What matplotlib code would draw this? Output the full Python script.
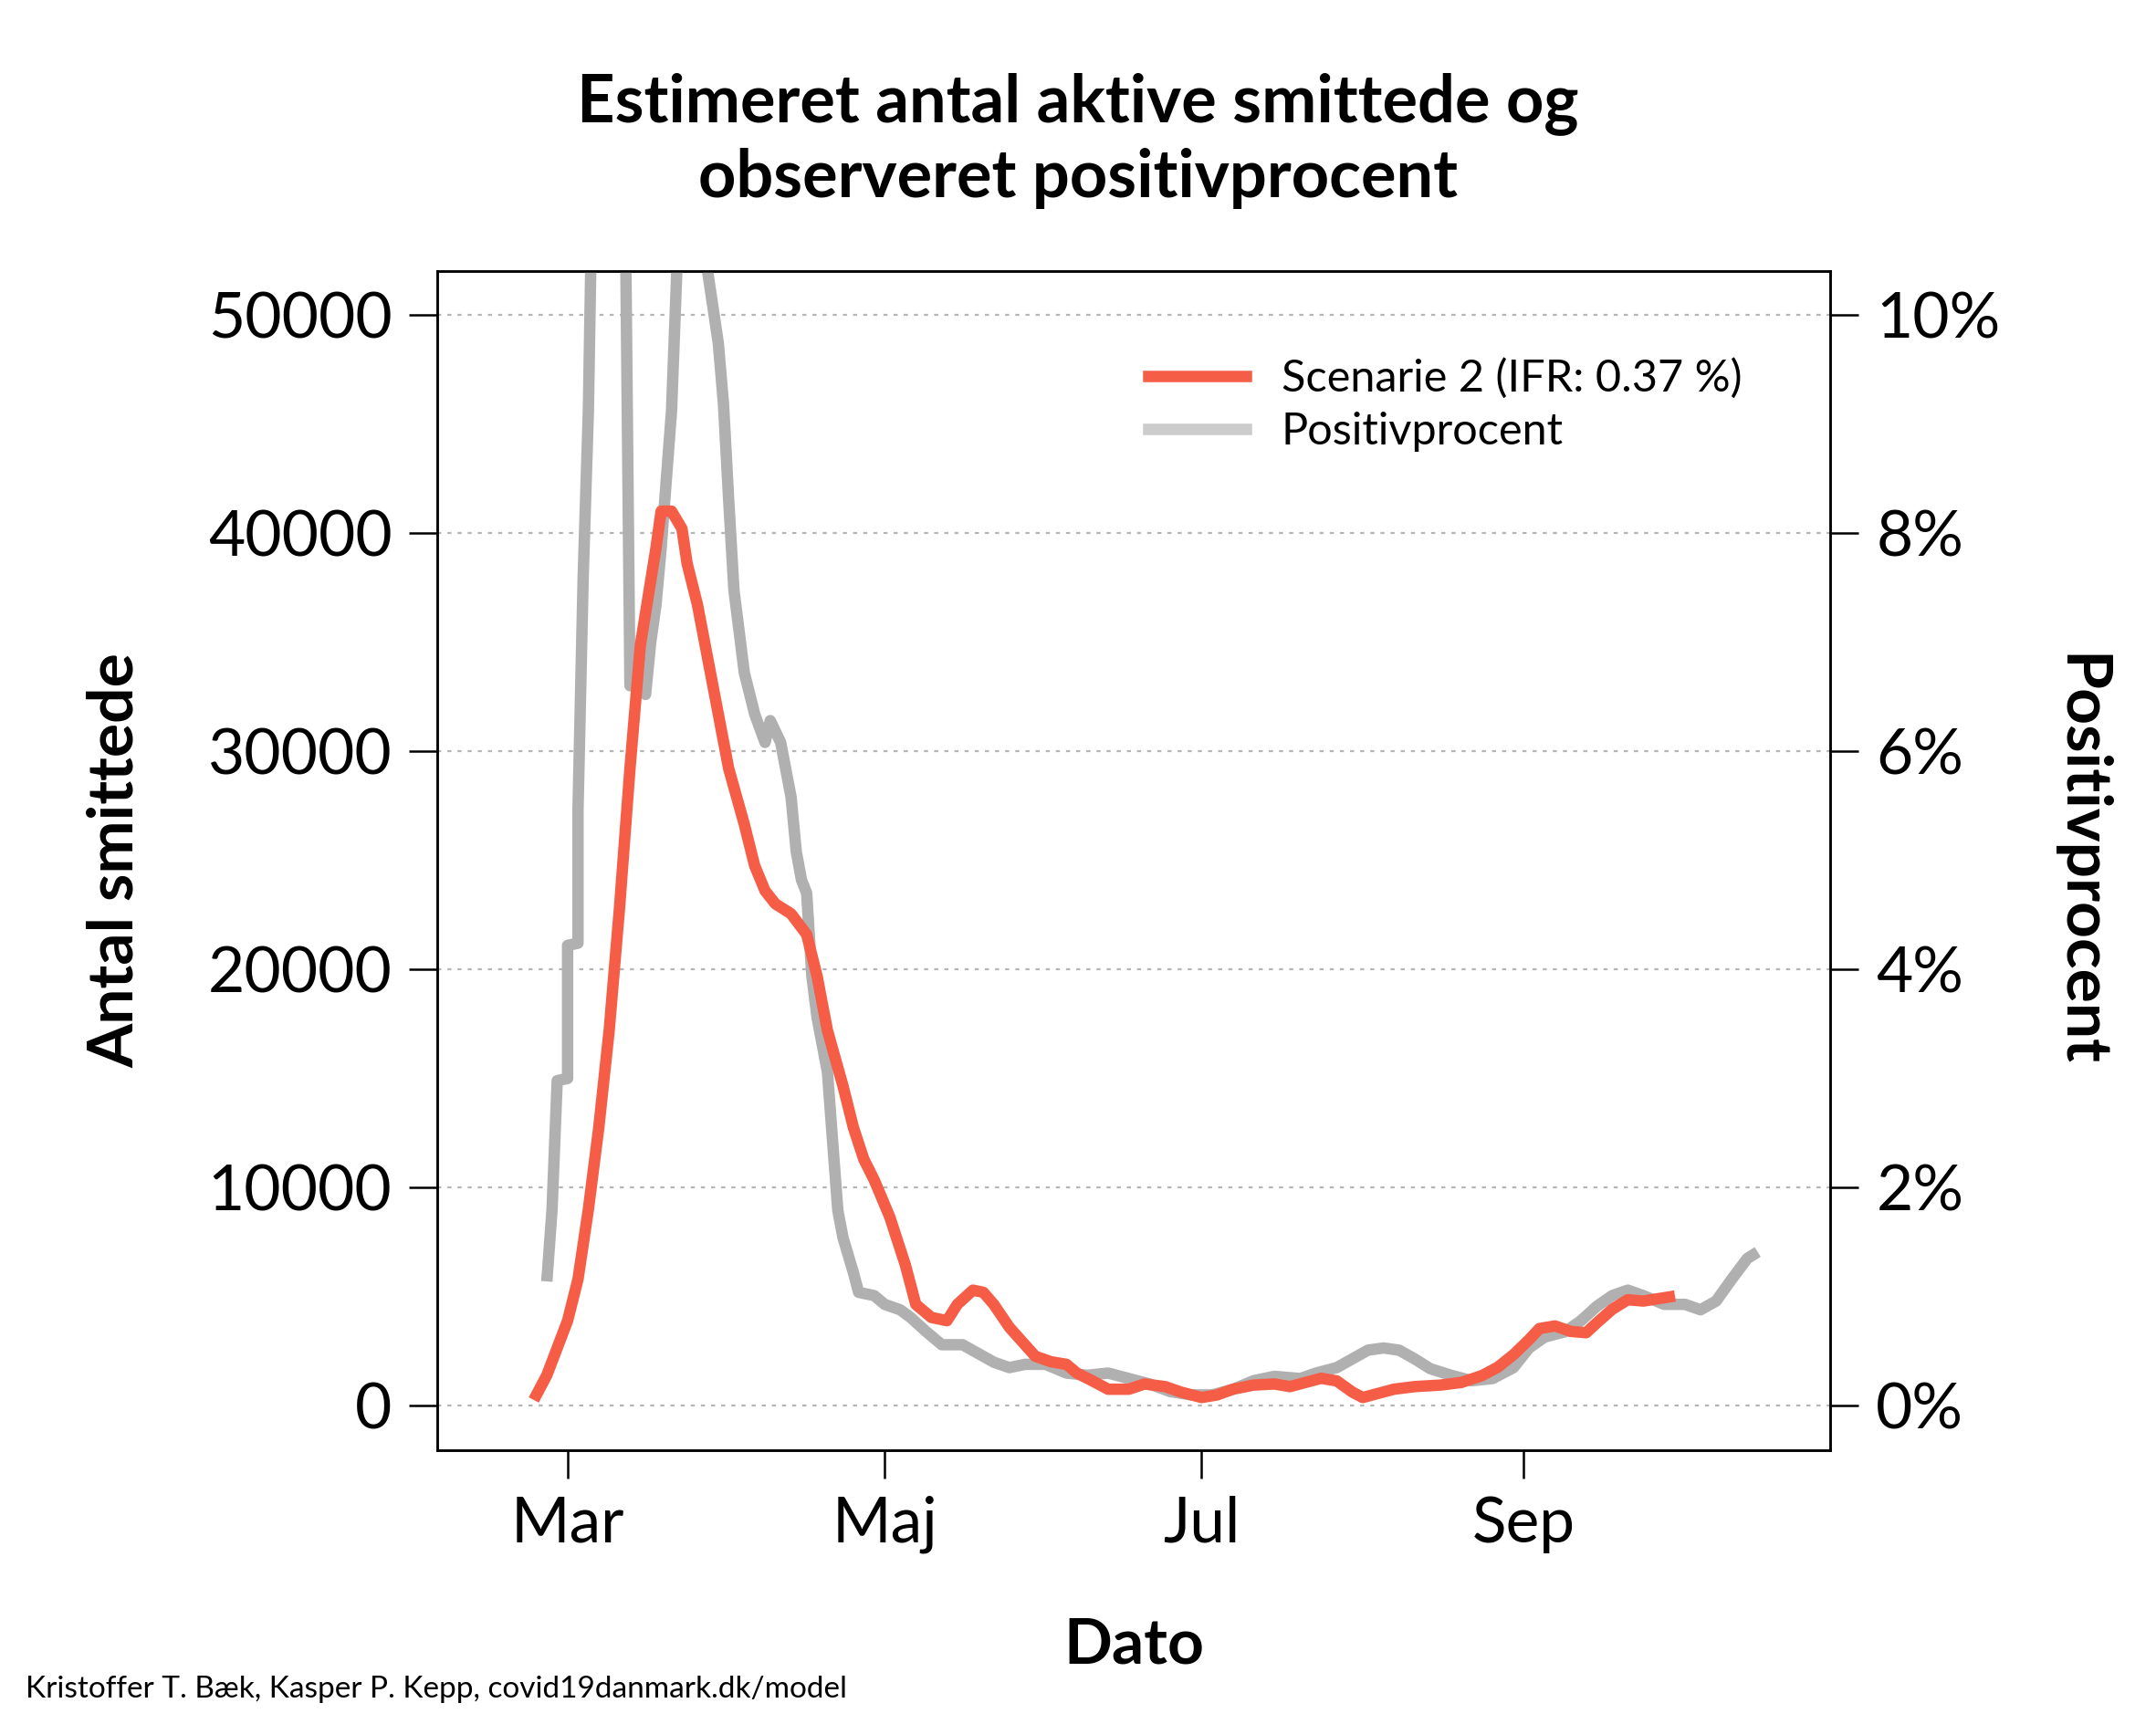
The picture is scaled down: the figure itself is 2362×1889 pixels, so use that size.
import matplotlib
matplotlib.use("Agg")
import matplotlib.pyplot as plt
import numpy as np
from datetime import date, timedelta

plt.rcParams["font.family"] = ["Lato", "DejaVu Sans"]

START = date(2020, 3, 1)

# day offsets from 1 March 2020
red_days = [-5.8, -3.7, -1.9, 0, 2.1, 4.2, 6.4, 8.5, 10.6, 12.7, 14.9, 17.0, 18.6, 20.7, 22.3,
            23.9, 25.5, 27.6, 29.7, 31.8, 34.0, 36.1, 38.2, 40.8, 43.5, 46.2, 48.8, 50.9, 53.1,
            55.2, 57.3, 59.9, 62.6, 65.3, 67.9, 70.6, 73.2, 75.9, 78.0, 80.1, 82.8, 85.4, 88.1,
            90.7, 93.4, 96.0, 98.7, 101.3, 104.5, 108.2, 111.9, 115.6, 118.8, 122.0, 125.2,
            128.9, 132.6, 136.3, 139.5, 142.7, 145.9, 148.5, 151.2, 153.8, 156.5, 159.7, 163.9,
            168.2, 172.4, 176.7, 179.8, 182.5, 185.1, 187.8, 190.5, 193.1, 196.3, 198.9, 201.6,
            204.2, 207.4, 212.2]
red_vals = [500, 1400, 2650, 3900, 5800, 9000, 12750, 17200, 22850, 29200, 34850, 39300, 41000,
            41000, 40200, 38600, 36700, 34200, 31700, 29200, 26650, 24750, 23600, 23000, 22550,
            21600, 19700, 17200, 14650, 12750, 11300, 10350, 8650, 6450, 4650, 4050, 3900, 4650,
            5300, 5200, 4650, 3600, 2800, 2270, 2020, 1900, 1500, 1140, 760, 760, 1000, 880, 630,
            380, 500, 760, 950, 1000, 880, 1070, 1260, 1140, 630, 380, 570, 760, 880, 950, 1070,
            1390, 1770, 2340, 3030, 3540, 3660, 3410, 3350, 3790, 4420, 4860, 4800, 4990]

gray_days = [-3.2, -2.1, -1.3, 0, 0.8, 2.1, 2.9, 3.7, 4.2, 5.0, 8.0, 11.9, 12.5, 13.3, 15.4,
             16.0, 17.5, 18.6, 20.2, 21.8, 24.0, 26.0, 27.6, 29.2, 30.8, 31.3, 32.9, 34.5, 36.6,
             38.2, 39.8, 41.4, 43.0, 44.0, 45.6, 46.7, 47.2, 48.8, 50.4, 51.5, 52.5, 53.6, 55.2,
             56.8, 59.4, 61.0, 64.2, 66.8, 69.5, 72.7, 76.4, 79.6, 82.2, 85.4, 88.6, 92.3, 96.0,
             100.3, 104.5, 108.2, 112.5, 116.2, 120.4, 124.1, 128.4, 132.6, 136.9, 141.1, 144.8,
             148.5, 151.7, 154.9, 157.6, 160.7, 163.4, 166.6, 170.3, 174.5, 178.8, 182.0, 185.7,
             188.9, 192.0, 195.2, 198.4, 201.6, 204.8, 207.9, 211.7, 215.4, 218.6, 221.8, 224.4,
             227.1, 229.2]
gray_pct = [1.14, 1.79, 2.98, 3.0, 4.22, 4.24, 5.46, 7.6, 9.12, 12.0, 12.5, 11.5, 6.6, 6.62,
            6.52, 7.0, 7.34, 7.86, 9.12, 10.38, 12.0, 11.6, 10.38, 9.74, 9.18, 8.3, 7.48, 6.72,
            6.34, 6.08, 6.28, 6.08, 5.58, 5.08, 4.82, 4.7, 3.94, 3.56, 3.06, 2.42, 1.79, 1.54,
            1.22, 1.04, 1.01, 0.93, 0.88, 0.81, 0.68, 0.56, 0.56, 0.48, 0.40, 0.35, 0.38, 0.38,
            0.30, 0.28, 0.30, 0.25, 0.20, 0.13, 0.10, 0.10, 0.15, 0.23, 0.27, 0.25, 0.30, 0.35,
            0.43, 0.51, 0.53, 0.51, 0.43, 0.34, 0.28, 0.23, 0.25, 0.35, 0.53, 0.63, 0.68, 0.78,
            0.91, 1.01, 1.06, 1.01, 0.93, 0.93, 0.88, 0.96, 1.16, 1.35, 1.41]

RED = "#f55d47"
GRAY = "#b0b0b0"


def to_dates(days):
    return [START + timedelta(days=d) for d in days]


fig = plt.figure(figsize=(23.62, 18.89), dpi=100)
ax = fig.add_axes([0.203, 0.159, 0.646, 0.684])
ax2 = ax.twinx()

ylo, yhi = -2020, 52020
ax.set_ylim(ylo, yhi)
ax2.set_ylim(ylo / 5000, yhi / 5000)
ax.set_xlim(START - timedelta(days=25), START + timedelta(days=243))

for v in range(0, 50001, 10000):
    ax.axhline(v, color="#b5b5b5", linestyle=(0, (2, 3)), linewidth=1.6, zorder=0)

ax2.plot(to_dates(gray_days), gray_pct, color=GRAY, linewidth=9, solid_capstyle="butt")
ax2.plot(to_dates(red_days), np.array(red_vals) / 5000, color=RED, linewidth=9,
         solid_joinstyle="round")

ax.set_yticks(range(0, 50001, 10000))
ax.set_yticklabels([str(v) for v in range(0, 50001, 10000)])
ax2.set_yticks(range(0, 11, 2))
ax2.set_yticklabels([f"{v}%" for v in range(0, 11, 2)])
ax.set_xticks([date(2020, 3, 1), date(2020, 5, 1), date(2020, 7, 1), date(2020, 9, 1)])
ax.set_xticklabels(["Mar", "Maj", "Jul", "Sep"])

for a in (ax, ax2):
    a.tick_params(labelsize=50, length=22, width=1.8, pad=14, direction="out")
    for s in a.spines.values():
        s.set_linewidth(1.8)

ax.set_ylabel("Antal smittede", fontsize=50, fontweight="bold", labelpad=50)
ax2.set_ylabel("Positivprocent", fontsize=50, fontweight="bold", rotation=-90, labelpad=85)
ax.set_xlabel("Dato", fontsize=50, fontweight="bold", labelpad=50)
fig.suptitle("Estimeret antal aktive smittede og\nobserveret positivprocent",
             fontsize=52, fontweight="bold", y=0.958, linespacing=1.25)

handles = [plt.Line2D([], [], color=RED, linewidth=9),
           plt.Line2D([], [], color="#cccccc", linewidth=9)]
ax2.legend(handles, ["Scenarie 2 (IFR: 0.37 %)", "Positivprocent"], loc="upper right",
           bbox_to_anchor=(0.965, 0.96), frameon=False, fontsize=35, handlelength=2.2,
           labelspacing=0.3)

fig.text(0.012, 0.012, "Kristoffer T. Bæk, Kasper P. Kepp, covid19danmark.dk/model",
         fontsize=24, ha="left", va="bottom")

fig.savefig("out.png", dpi=100)
